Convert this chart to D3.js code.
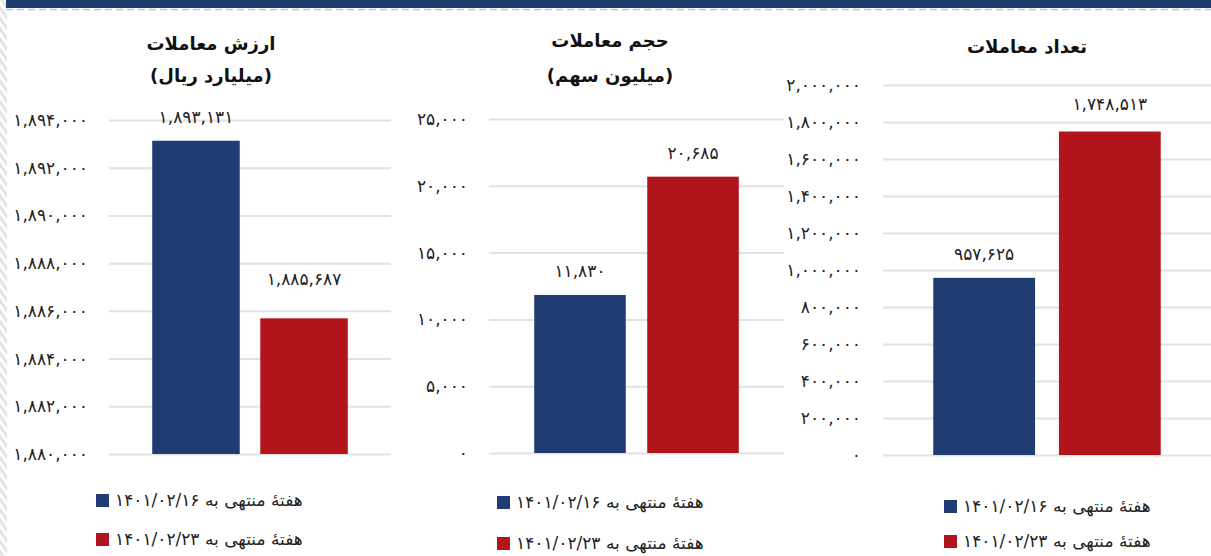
<!DOCTYPE html>
<html>
<head>
<meta charset="utf-8">
<script src="https://cdn.jsdelivr.net/npm/d3@7"></script>
<style>
  body { margin: 0; background: #fff; }
  svg { display: block; font-family: "DejaVu Sans", sans-serif; }
</style>
</head>
<body>
<svg width="1211" height="556"></svg>
<script>
// series (two weeks)
var seriesNames = ["هفتهٔ منتهی به ۱۴۰۱/۰۲/۱۶", "هفتهٔ منتهی به ۱۴۰۱/۰۲/۲۳"];
var seriesColors = ["#1f3d72", "#b1141a"];

// panel titles
var valueTitle = ["ارزش معاملات", "(میلیارد ریال)"];
var volumeTitle = ["حجم معاملات", "(میلیون سهم)"];
var countTitle = ["تعداد معاملات"];

// values
var valueData = [1893131, 1885687];
var volumeData = [11830, 20685];
var countData = [957625, 1748513];

// tick labels
var valueTicks = [1880000, 1882000, 1884000, 1886000, 1888000, 1890000, 1892000, 1894000];
var volumeTicks = [0, 5000, 10000, 15000, 20000, 25000];
var countTicks = [0, 200000, 400000, 600000, 800000, 1000000, 1200000, 1400000, 1600000, 1800000, 2000000];

var fa = "۰۱۲۳۴۵۶۷۸۹";
function persian(n) {
  return d3.format(",")(n).replace(/[0-9]/g, function(c) { return fa[+c]; });
}

var svg = d3.select("svg");

// left striped edge
var defs = svg.append("defs");
var pat = defs.append("pattern")
    .attr("id", "stripes")
    .attr("width", 6).attr("height", 6)
    .attr("patternUnits", "userSpaceOnUse")
    .attr("patternTransform", "rotate(-35)");
pat.append("rect").attr("width", 6).attr("height", 6).attr("fill", "#fff");
pat.append("rect").attr("width", 3).attr("height", 6).attr("fill", "#e4e4e4");
svg.append("rect").attr("x", 0).attr("y", 0).attr("width", 7).attr("height", 556).attr("fill", "url(#stripes)");

// top band
svg.append("rect").attr("x", 6).attr("y", 0).attr("width", 1205).attr("height", 8).attr("fill", "#1c3d6e");
svg.append("line")
    .attr("x1", 6).attr("x2", 1211).attr("y1", 9.5).attr("y2", 9.5)
    .attr("stroke", "#b9c4d4").attr("stroke-width", 1.5)
    .attr("stroke-dasharray", "7,4");

var panels = [
  {data: valueData, ticks: valueTicks, title: valueTitle,
   x0: 109, x1: 391, yTop: 120, yBot: 454, labelX: 88, titleX: 211, titleY: [43, 75],
   legendX: 96, legendY: [494, 533], nudge: [0, 15]},
  {data: volumeData, ticks: volumeTicks, title: volumeTitle,
   x0: 489, x1: 784, yTop: 119, yBot: 453, labelX: 468, titleX: 610, titleY: [40, 75],
   legendX: 497, legendY: [496, 537], nudge: [0, 0]},
  {data: countData, ticks: countTicks, title: countTitle,
   x0: 883, x1: 1211, yTop: 85, yBot: 455, labelX: 861, titleX: 1027, titleY: [46],
   legendX: 944, legendY: [500, 535], nudge: [0, 4]}
];

panels.forEach(function(p) {
  var g = svg.append("g");

  var x = d3.scaleBand()
      .domain(d3.range(p.data.length))
      .range([p.x0, p.x1])
      .paddingInner(0.19)
      .paddingOuter(0.4);

  var y = d3.scaleLinear()
      .domain(d3.extent(p.ticks))
      .range([p.yBot, p.yTop]);

  // gridlines + tick labels
  var axis = g.append("g")
      .attr("transform", "translate(" + p.x0 + ",0)")
      .call(d3.axisLeft(y)
        .tickValues(p.ticks)
        .tickSize(-(p.x1 - p.x0))
        .tickPadding(p.x0 - p.labelX)
        .tickFormat(persian));
  axis.select(".domain").remove();
  axis.selectAll(".tick line").attr("stroke", "#e2e2e2").attr("stroke-width", 2);
  axis.selectAll(".tick text")
      .attr("fill", "#222")
      .style("font-size", "17px")
      .style("font-family", "DejaVu Sans, sans-serif");

  // bars
  g.selectAll(".bar")
    .data(p.data)
    .enter().append("rect")
      .attr("class", "bar")
      .attr("x", function(d, i) { return x(i); })
      .attr("y", function(d) { return y(d); })
      .attr("width", x.bandwidth())
      .attr("height", function(d) { return p.yBot - y(d); })
      .attr("fill", function(d, i) { return seriesColors[i]; });

  // value labels
  g.selectAll(".val")
    .data(p.data)
    .enter().append("text")
      .attr("class", "val")
      .attr("x", function(d, i) { return x(i) + x.bandwidth() / 2; })
      .attr("y", function(d, i) { return y(d) - 18 - p.nudge[i]; })
      .attr("text-anchor", "middle")
      .attr("fill", "#222")
      .style("font-size", "17px")
      .text(function(d) { return persian(d); });

  // title
  g.selectAll(".title")
    .data(p.title)
    .enter().append("text")
      .attr("class", "title")
      .attr("x", p.titleX)
      .attr("y", function(d, i) { return p.titleY[i] + 7; })
      .attr("text-anchor", "middle")
      .attr("direction", "rtl")
      .attr("font-weight", "bold")
      .attr("fill", "#111")
      .style("font-size", "18px")
      .text(function(d) { return d; });

  // legend
  var lg = g.selectAll(".legend")
    .data(seriesNames)
    .enter().append("g")
      .attr("class", "legend")
      .attr("transform", function(d, i) { return "translate(" + p.legendX + "," + p.legendY[i] + ")"; });
  lg.append("rect")
      .attr("width", 13).attr("height", 13)
      .attr("fill", function(d, i) { return seriesColors[i]; });
  lg.append("text")
      .attr("x", 19)
      .attr("y", 6)
      .attr("dy", "0.35em")
      .attr("direction", "rtl")
      .attr("text-anchor", "end")
      .attr("fill", "#222")
      .style("font-size", "17px")
      .text(function(d) { return d; });
});
</script>
</body>
</html>
